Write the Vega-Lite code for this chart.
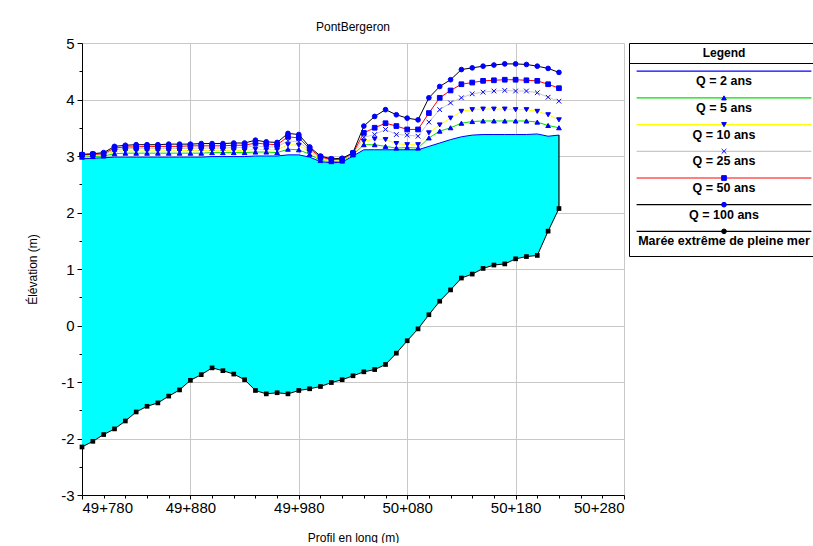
{
  "$schema": "https://vega.github.io/schema/vega-lite/v6.json",
  "padding": {"left": 26, "top": 21, "right": 0, "bottom": 0},
  "background": "white",
  "config": {
    "font": "Liberation Sans",
    "view": {"stroke": null},
    "axis": {
      "domainColor": "black",
      "tickColor": "black",
      "labelColor": "black",
      "titleColor": "black",
      "gridColor": "#c8c8c8",
      "gridOpacity": 1,
      "labelFont": "Liberation Sans",
      "titleFont": "Liberation Sans",
      "titleFontWeight": "normal"
    }
  },
  "datasets": {
    "profil": [
      {"pk": 49780, "fond": -2.15, "Q = 2 ans": 2.95, "Q = 5 ans": 2.98, "Q = 10 ans": 3.00, "Q = 25 ans": 3.01, "Q = 50 ans": 3.02, "Q = 100 ans": 3.03},
      {"pk": 49790, "fond": -2.05, "Q = 2 ans": 2.96, "Q = 5 ans": 2.99, "Q = 10 ans": 3.01, "Q = 25 ans": 3.02, "Q = 50 ans": 3.03, "Q = 100 ans": 3.04},
      {"pk": 49800, "fond": -1.93, "Q = 2 ans": 2.97, "Q = 5 ans": 3.00, "Q = 10 ans": 3.02, "Q = 25 ans": 3.03, "Q = 50 ans": 3.04, "Q = 100 ans": 3.06},
      {"pk": 49810, "fond": -1.83, "Q = 2 ans": 2.98, "Q = 5 ans": 3.04, "Q = 10 ans": 3.08, "Q = 25 ans": 3.11, "Q = 50 ans": 3.14, "Q = 100 ans": 3.17},
      {"pk": 49820, "fond": -1.69, "Q = 2 ans": 2.98, "Q = 5 ans": 3.05, "Q = 10 ans": 3.09, "Q = 25 ans": 3.13, "Q = 50 ans": 3.16, "Q = 100 ans": 3.19},
      {"pk": 49830, "fond": -1.53, "Q = 2 ans": 2.98, "Q = 5 ans": 3.05, "Q = 10 ans": 3.09, "Q = 25 ans": 3.13, "Q = 50 ans": 3.16, "Q = 100 ans": 3.20},
      {"pk": 49840, "fond": -1.43, "Q = 2 ans": 2.98, "Q = 5 ans": 3.05, "Q = 10 ans": 3.09, "Q = 25 ans": 3.13, "Q = 50 ans": 3.17, "Q = 100 ans": 3.20},
      {"pk": 49850, "fond": -1.37, "Q = 2 ans": 2.98, "Q = 5 ans": 3.05, "Q = 10 ans": 3.09, "Q = 25 ans": 3.13, "Q = 50 ans": 3.17, "Q = 100 ans": 3.20},
      {"pk": 49860, "fond": -1.25, "Q = 2 ans": 2.98, "Q = 5 ans": 3.05, "Q = 10 ans": 3.09, "Q = 25 ans": 3.13, "Q = 50 ans": 3.17, "Q = 100 ans": 3.21},
      {"pk": 49870, "fond": -1.14, "Q = 2 ans": 2.98, "Q = 5 ans": 3.05, "Q = 10 ans": 3.09, "Q = 25 ans": 3.13, "Q = 50 ans": 3.17, "Q = 100 ans": 3.21},
      {"pk": 49880, "fond": -0.97, "Q = 2 ans": 2.98, "Q = 5 ans": 3.05, "Q = 10 ans": 3.10, "Q = 25 ans": 3.14, "Q = 50 ans": 3.18, "Q = 100 ans": 3.21},
      {"pk": 49890, "fond": -0.87, "Q = 2 ans": 2.98, "Q = 5 ans": 3.05, "Q = 10 ans": 3.10, "Q = 25 ans": 3.14, "Q = 50 ans": 3.18, "Q = 100 ans": 3.22},
      {"pk": 49900, "fond": -0.75, "Q = 2 ans": 2.99, "Q = 5 ans": 3.06, "Q = 10 ans": 3.10, "Q = 25 ans": 3.14, "Q = 50 ans": 3.18, "Q = 100 ans": 3.22},
      {"pk": 49910, "fond": -0.80, "Q = 2 ans": 2.99, "Q = 5 ans": 3.06, "Q = 10 ans": 3.10, "Q = 25 ans": 3.14, "Q = 50 ans": 3.18, "Q = 100 ans": 3.22},
      {"pk": 49920, "fond": -0.86, "Q = 2 ans": 2.99, "Q = 5 ans": 3.06, "Q = 10 ans": 3.10, "Q = 25 ans": 3.15, "Q = 50 ans": 3.19, "Q = 100 ans": 3.23},
      {"pk": 49930, "fond": -0.96, "Q = 2 ans": 2.99, "Q = 5 ans": 3.06, "Q = 10 ans": 3.10, "Q = 25 ans": 3.15, "Q = 50 ans": 3.19, "Q = 100 ans": 3.23},
      {"pk": 49940, "fond": -1.15, "Q = 2 ans": 3.00, "Q = 5 ans": 3.07, "Q = 10 ans": 3.12, "Q = 25 ans": 3.18, "Q = 50 ans": 3.23, "Q = 100 ans": 3.28},
      {"pk": 49950, "fond": -1.21, "Q = 2 ans": 3.00, "Q = 5 ans": 3.07, "Q = 10 ans": 3.11, "Q = 25 ans": 3.16, "Q = 50 ans": 3.21, "Q = 100 ans": 3.25},
      {"pk": 49960, "fond": -1.19, "Q = 2 ans": 3.00, "Q = 5 ans": 3.06, "Q = 10 ans": 3.11, "Q = 25 ans": 3.16, "Q = 50 ans": 3.20, "Q = 100 ans": 3.24},
      {"pk": 49970, "fond": -1.21, "Q = 2 ans": 3.02, "Q = 5 ans": 3.12, "Q = 10 ans": 3.20, "Q = 25 ans": 3.27, "Q = 50 ans": 3.34, "Q = 100 ans": 3.40},
      {"pk": 49980, "fond": -1.15, "Q = 2 ans": 3.02, "Q = 5 ans": 3.11, "Q = 10 ans": 3.19, "Q = 25 ans": 3.25, "Q = 50 ans": 3.32, "Q = 100 ans": 3.38},
      {"pk": 49990, "fond": -1.12, "Q = 2 ans": 2.98, "Q = 5 ans": 3.03, "Q = 10 ans": 3.07, "Q = 25 ans": 3.10, "Q = 50 ans": 3.13, "Q = 100 ans": 3.16},
      {"pk": 50000, "fond": -1.08, "Q = 2 ans": 2.90, "Q = 5 ans": 2.92, "Q = 10 ans": 2.94, "Q = 25 ans": 2.96, "Q = 50 ans": 2.98, "Q = 100 ans": 3.00},
      {"pk": 50010, "fond": -1.01, "Q = 2 ans": 2.88, "Q = 5 ans": 2.90, "Q = 10 ans": 2.92, "Q = 25 ans": 2.93, "Q = 50 ans": 2.94, "Q = 100 ans": 2.95},
      {"pk": 50020, "fond": -0.96, "Q = 2 ans": 2.89, "Q = 5 ans": 2.91, "Q = 10 ans": 2.92, "Q = 25 ans": 2.93, "Q = 50 ans": 2.94, "Q = 100 ans": 2.96},
      {"pk": 50030, "fond": -0.89, "Q = 2 ans": 3.00, "Q = 5 ans": 3.02, "Q = 10 ans": 3.03, "Q = 25 ans": 3.04, "Q = 50 ans": 3.05, "Q = 100 ans": 3.06},
      {"pk": 50040, "fond": -0.82, "Q = 2 ans": 3.11, "Q = 5 ans": 3.20, "Q = 10 ans": 3.26, "Q = 25 ans": 3.33, "Q = 50 ans": 3.41, "Q = 100 ans": 3.53},
      {"pk": 50050, "fond": -0.78, "Q = 2 ans": 3.11, "Q = 5 ans": 3.20, "Q = 10 ans": 3.30, "Q = 25 ans": 3.38, "Q = 50 ans": 3.50, "Q = 100 ans": 3.70},
      {"pk": 50060, "fond": -0.69, "Q = 2 ans": 3.11, "Q = 5 ans": 3.17, "Q = 10 ans": 3.29, "Q = 25 ans": 3.47, "Q = 50 ans": 3.58, "Q = 100 ans": 3.82},
      {"pk": 50070, "fond": -0.49, "Q = 2 ans": 3.11, "Q = 5 ans": 3.14, "Q = 10 ans": 3.22, "Q = 25 ans": 3.38, "Q = 50 ans": 3.53, "Q = 100 ans": 3.73},
      {"pk": 50080, "fond": -0.27, "Q = 2 ans": 3.11, "Q = 5 ans": 3.15, "Q = 10 ans": 3.20, "Q = 25 ans": 3.37, "Q = 50 ans": 3.47, "Q = 100 ans": 3.67},
      {"pk": 50090, "fond": -0.06, "Q = 2 ans": 3.11, "Q = 5 ans": 3.14, "Q = 10 ans": 3.20, "Q = 25 ans": 3.35, "Q = 50 ans": 3.47, "Q = 100 ans": 3.64},
      {"pk": 50100, "fond": 0.19, "Q = 2 ans": 3.17, "Q = 5 ans": 3.32, "Q = 10 ans": 3.41, "Q = 25 ans": 3.60, "Q = 50 ans": 3.76, "Q = 100 ans": 4.03},
      {"pk": 50110, "fond": 0.43, "Q = 2 ans": 3.23, "Q = 5 ans": 3.44, "Q = 10 ans": 3.55, "Q = 25 ans": 3.82, "Q = 50 ans": 4.03, "Q = 100 ans": 4.23},
      {"pk": 50120, "fond": 0.63, "Q = 2 ans": 3.29, "Q = 5 ans": 3.50, "Q = 10 ans": 3.67, "Q = 25 ans": 3.94, "Q = 50 ans": 4.16, "Q = 100 ans": 4.35},
      {"pk": 50130, "fond": 0.84, "Q = 2 ans": 3.34, "Q = 5 ans": 3.58, "Q = 10 ans": 3.79, "Q = 25 ans": 4.03, "Q = 50 ans": 4.27, "Q = 100 ans": 4.53},
      {"pk": 50140, "fond": 0.91, "Q = 2 ans": 3.37, "Q = 5 ans": 3.61, "Q = 10 ans": 3.82, "Q = 25 ans": 4.10, "Q = 50 ans": 4.30, "Q = 100 ans": 4.56},
      {"pk": 50150, "fond": 1.01, "Q = 2 ans": 3.38, "Q = 5 ans": 3.62, "Q = 10 ans": 3.83, "Q = 25 ans": 4.13, "Q = 50 ans": 4.33, "Q = 100 ans": 4.59},
      {"pk": 50160, "fond": 1.07, "Q = 2 ans": 3.38, "Q = 5 ans": 3.62, "Q = 10 ans": 3.83, "Q = 25 ans": 4.15, "Q = 50 ans": 4.34, "Q = 100 ans": 4.61},
      {"pk": 50170, "fond": 1.09, "Q = 2 ans": 3.38, "Q = 5 ans": 3.62, "Q = 10 ans": 3.83, "Q = 25 ans": 4.16, "Q = 50 ans": 4.35, "Q = 100 ans": 4.63},
      {"pk": 50180, "fond": 1.18, "Q = 2 ans": 3.38, "Q = 5 ans": 3.62, "Q = 10 ans": 3.82, "Q = 25 ans": 4.15, "Q = 50 ans": 4.35, "Q = 100 ans": 4.63},
      {"pk": 50190, "fond": 1.22, "Q = 2 ans": 3.38, "Q = 5 ans": 3.62, "Q = 10 ans": 3.82, "Q = 25 ans": 4.15, "Q = 50 ans": 4.34, "Q = 100 ans": 4.62},
      {"pk": 50200, "fond": 1.24, "Q = 2 ans": 3.39, "Q = 5 ans": 3.60, "Q = 10 ans": 3.79, "Q = 25 ans": 4.12, "Q = 50 ans": 4.33, "Q = 100 ans": 4.59},
      {"pk": 50210, "fond": 1.67, "Q = 2 ans": 3.35, "Q = 5 ans": 3.54, "Q = 10 ans": 3.73, "Q = 25 ans": 4.04, "Q = 50 ans": 4.27, "Q = 100 ans": 4.55},
      {"pk": 50220, "fond": 2.07, "Q = 2 ans": 3.37, "Q = 5 ans": 3.50, "Q = 10 ans": 3.64, "Q = 25 ans": 3.97, "Q = 50 ans": 4.20, "Q = 100 ans": 4.48}
    ],
    "legende": [
      {"serie": "Q = 2 ans"},
      {"serie": "Q = 5 ans"},
      {"serie": "Q = 10 ans"},
      {"serie": "Q = 25 ans"},
      {"serie": "Q = 50 ans"},
      {"serie": "Q = 100 ans"},
      {"serie": "Marée extrême de pleine mer"}
    ]
  },
  "bounds": "flush",
  "spacing": 5,
  "resolve": {"scale": {"x": "independent", "y": "independent", "color": "independent", "shape": "independent", "size": "independent", "fill": "independent", "stroke": "independent"}},
  "hconcat": [
    {
      "title": {"text": "PontBergeron", "fontSize": 12, "fontWeight": "normal", "offset": 2, "anchor": "middle", "color": "black"},
      "width": 542,
      "height": 452,
      "data": {"name": "profil"},
      "resolve": {"axis": {"x": "independent", "y": "independent"}},
      "layer": [
        {
          "mark": {"type": "area", "color": "#00ffff", "opacity": 1},
          "encoding": {
            "x": {
              "field": "pk", "type": "quantitative",
              "scale": {"domain": [49780, 50280], "nice": false, "zero": false},
              "axis": {
                "orient": "bottom",
                "values": [49780, 49880, 49980, 50080, 50180, 50280],
                "labelExpr": "floor(datum.value / 1000) + '+' + ((datum.value % 1000) < 10 ? '00' : (datum.value % 1000) < 100 ? '0' : '') + (datum.value % 1000)",
                "labelFontSize": 15,
                "labelPadding": 1,
                "tickSize": 4,
                "grid": true,
                "title": "Profil en long (m)",
                "titleFontSize": 12,
                "titlePadding": 17
              }
            },
            "y": {
              "field": "fond", "type": "quantitative",
              "scale": {"domain": [-3, 5], "nice": false, "zero": false},
              "axis": {
                "orient": "left",
                "values": [-3, -2, -1, 0, 1, 2, 3, 4, 5],
                "labelExpr": "'' + datum.value",
                "labelFontSize": 15,
                "labelPadding": 3,
                "tickSize": 5,
                "grid": true,
                "title": "Élévation (m)",
                "titleFontSize": 12,
                "titlePadding": 21
              }
            },
            "y2": {"field": "Q = 2 ans"}
          }
        },
        {
          "transform": [{"filter": "datum.pk == 50220"}],
          "mark": {"type": "rule", "color": "black", "strokeWidth": 1.2},
          "encoding": {
            "x": {
              "field": "pk", "type": "quantitative",
              "scale": {"domain": [49780, 50280], "nice": false, "zero": false},
              "axis": {
                "orient": "bottom",
                "values": [49800, 49820, 49840, 49860, 49900, 49920, 49940, 49960, 50000, 50020, 50040, 50060, 50100, 50120, 50140, 50160, 50200, 50220, 50240, 50260],
                "labels": false, "domain": false, "grid": false, "tickSize": 3, "title": null
              }
            },
            "y": {
              "field": "fond", "type": "quantitative",
              "scale": {"domain": [-3, 5], "nice": false, "zero": false},
              "axis": {
                "orient": "left",
                "values": [-2.5, -1.5, -0.5, 0.5, 1.5, 2.5, 3.5, 4.5],
                "labels": false, "domain": false, "grid": false, "tickSize": 3, "title": null
              }
            },
            "y2": {"field": "Q = 2 ans"}
          }
        },
        {
          "transform": [{"fold": ["Q = 2 ans", "Q = 5 ans", "Q = 10 ans", "Q = 25 ans", "Q = 50 ans", "Q = 100 ans"], "as": ["serie", "niveau"]}],
          "layer": [
            {
              "mark": {"type": "line", "strokeWidth": 1},
              "encoding": {
                "x": {"field": "pk", "type": "quantitative", "scale": {"domain": [49780, 50280], "nice": false, "zero": false}, "axis": null},
                "y": {"field": "niveau", "type": "quantitative", "scale": {"domain": [-3, 5], "nice": false, "zero": false}, "axis": null},
                "color": {
                  "field": "serie", "type": "nominal", "legend": null,
                  "scale": {
                    "domain": ["Q = 2 ans", "Q = 5 ans", "Q = 10 ans", "Q = 25 ans", "Q = 50 ans", "Q = 100 ans"],
                    "range": ["#0000ff", "#00e000", "#ffff00", "#c8c8c8", "#ff0000", "#000000"]
                  }
                }
              }
            },
            {
              "transform": [{"filter": "datum.serie != 'Q = 2 ans'"}],
              "mark": {"type": "point", "filled": true, "color": "#0000ff", "stroke": "#0000ff", "strokeWidth": 1, "opacity": 1},
              "encoding": {
                "x": {"field": "pk", "type": "quantitative", "scale": {"domain": [49780, 50280], "nice": false, "zero": false}, "axis": null},
                "y": {"field": "niveau", "type": "quantitative", "scale": {"domain": [-3, 5], "nice": false, "zero": false}, "axis": null},
                "shape": {
                  "field": "serie", "type": "nominal", "legend": null,
                  "scale": {
                    "domain": ["Q = 5 ans", "Q = 10 ans", "Q = 25 ans", "Q = 50 ans", "Q = 100 ans"],
                    "range": ["triangle-up", "triangle-down", "M-1,-1L1,1M-1,1L1,-1", "square", "circle"]
                  }
                },
                "size": {
                  "field": "serie", "type": "ordinal", "legend": null,
                  "scale": {
                    "domain": ["Q = 5 ans", "Q = 10 ans", "Q = 25 ans", "Q = 50 ans", "Q = 100 ans"],
                    "range": [22, 22, 14, 20, 6]
                  }
                }
              }
            }
          ]
        },
        {
          "mark": {"type": "line", "color": "black", "strokeWidth": 1, "point": {"filled": true, "shape": "square", "size": 22, "color": "black"}},
          "encoding": {
            "x": {"field": "pk", "type": "quantitative", "scale": {"domain": [49780, 50280], "nice": false, "zero": false}, "axis": null},
            "y": {"field": "fond", "type": "quantitative", "scale": {"domain": [-3, 5], "nice": false, "zero": false}, "axis": null}
          }
        }
      ]
    },
    {
      "spacing": 0,
      "bounds": "flush",
      "vconcat": [
        {
          "width": 190,
          "height": 20,
          "view": {"stroke": "black", "strokeWidth": 1},
          "data": {"values": [{"titre": "Legend"}]},
          "mark": {"type": "text", "fontSize": 12, "fontWeight": "bold", "color": "black"},
          "encoding": {"text": {"field": "titre"}}
        },
        {
          "width": 190,
          "height": 193,
          "view": {"stroke": "black", "strokeWidth": 1},
          "data": {"name": "legende"},
          "layer": [
            {
              "mark": {"type": "rule", "strokeWidth": 1.2},
              "encoding": {
                "y": {"field": "serie", "type": "nominal", "axis": null,
                      "scale": {"type": "point", "padding": 0.615, "align": 0.25,
                                "domain": ["Q = 2 ans", "Q = 5 ans", "Q = 10 ans", "Q = 25 ans", "Q = 50 ans", "Q = 100 ans", "Marée extrême de pleine mer"]}},
                "x": {"datum": 0.04, "type": "quantitative", "scale": {"domain": [0, 1], "nice": false, "zero": false}, "axis": null},
                "x2": {"datum": 0.96},
                "color": {
                  "field": "serie", "type": "nominal", "legend": null,
                  "scale": {
                    "domain": ["Q = 2 ans", "Q = 5 ans", "Q = 10 ans", "Q = 25 ans", "Q = 50 ans", "Q = 100 ans", "Marée extrême de pleine mer"],
                    "range": ["#0000ff", "#00e000", "#ffff00", "#c8c8c8", "#ff0000", "#000000", "#000000"]
                  }
                }
              }
            },
            {
              "transform": [{"filter": "datum.serie != 'Q = 2 ans'"}],
              "mark": {"type": "point", "filled": true, "opacity": 1, "strokeWidth": 1},
              "encoding": {
                "y": {"field": "serie", "type": "nominal", "axis": null,
                      "scale": {"type": "point", "padding": 0.615, "align": 0.25,
                                "domain": ["Q = 2 ans", "Q = 5 ans", "Q = 10 ans", "Q = 25 ans", "Q = 50 ans", "Q = 100 ans", "Marée extrême de pleine mer"]}},
                "x": {"datum": 0.5, "type": "quantitative", "scale": {"domain": [0, 1], "nice": false, "zero": false}, "axis": null},
                "shape": {
                  "field": "serie", "type": "nominal", "legend": null,
                  "scale": {
                    "domain": ["Q = 5 ans", "Q = 10 ans", "Q = 25 ans", "Q = 50 ans", "Q = 100 ans", "Marée extrême de pleine mer"],
                    "range": ["triangle-up", "triangle-down", "M-1,-1L1,1M-1,1L1,-1", "square", "circle", "circle"]
                  }
                },
                "size": {
                  "field": "serie", "type": "ordinal", "legend": null,
                  "scale": {
                    "domain": ["Q = 5 ans", "Q = 10 ans", "Q = 25 ans", "Q = 50 ans", "Q = 100 ans", "Marée extrême de pleine mer"],
                    "range": [22, 22, 14, 20, 6, 28]
                  }
                },
                "fill": {
                  "field": "serie", "type": "nominal", "legend": null,
                  "scale": {
                    "domain": ["Q = 5 ans", "Q = 10 ans", "Q = 25 ans", "Q = 50 ans", "Q = 100 ans", "Marée extrême de pleine mer"],
                    "range": ["#0000ff", "#0000ff", "#0000ff", "#0000ff", "#0000ff", "#000000"]
                  }
                },
                "stroke": {
                  "field": "serie", "type": "nominal", "legend": null,
                  "scale": {
                    "domain": ["Q = 5 ans", "Q = 10 ans", "Q = 25 ans", "Q = 50 ans", "Q = 100 ans", "Marée extrême de pleine mer"],
                    "range": ["#0000ff", "#0000ff", "#0000ff", "#0000ff", "#0000ff", "#000000"]
                  }
                }
              }
            },
            {
              "mark": {"type": "text", "dy": 10, "fontSize": 12.5, "fontWeight": "bold", "color": "black"},
              "encoding": {
                "y": {"field": "serie", "type": "nominal", "axis": null,
                      "scale": {"type": "point", "padding": 0.615, "align": 0.25,
                                "domain": ["Q = 2 ans", "Q = 5 ans", "Q = 10 ans", "Q = 25 ans", "Q = 50 ans", "Q = 100 ans", "Marée extrême de pleine mer"]}},
                "x": {"datum": 0.5, "type": "quantitative", "scale": {"domain": [0, 1], "nice": false, "zero": false}, "axis": null},
                "text": {"field": "serie"}
              }
            }
          ]
        }
      ]
    }
  ]
}
